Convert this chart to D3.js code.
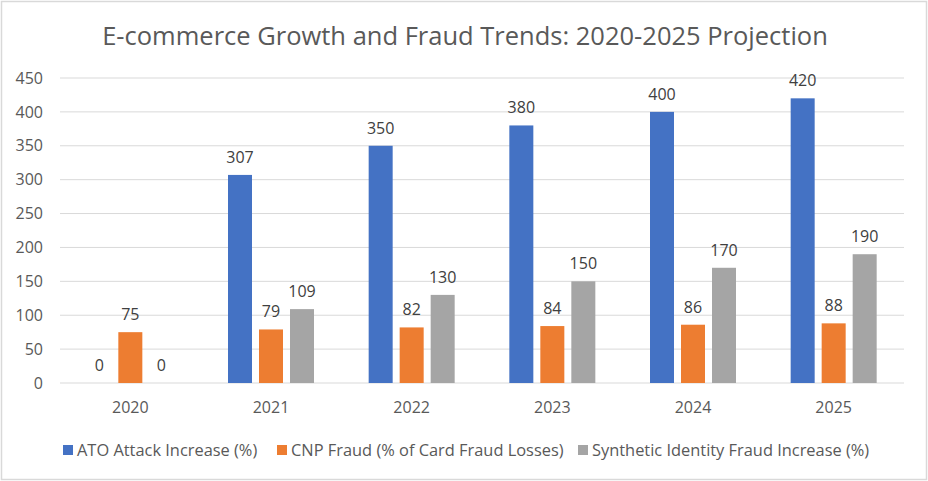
<!DOCTYPE html>
<html>
<head>
<meta charset="utf-8">
<script src="https://cdn.jsdelivr.net/npm/d3@7"></script>
<style>
  body { margin: 0; background: #fff; }
  svg { display: block; font-family: "Open Sans", "Noto Sans", sans-serif; }
</style>
</head>
<body>
<div id="chart"></div>
<script>
var years = ["2020", "2021", "2022", "2023", "2024", "2025"];
var seriesNames = ["ATO Attack Increase (%)", "CNP Fraud (% of Card Fraud Losses)", "Synthetic Identity Fraud Increase (%)"];
var atoValues = [0, 307, 350, 380, 400, 420];
var cnpValues = [75, 79, 82, 84, 86, 88];
var synthValues = [0, 109, 130, 150, 170, 190];
var yTicks = [0, 50, 100, 150, 200, 250, 300, 350, 400, 450];
var colors = ["#4472C4", "#ED7D31", "#A5A5A5"];

var width = 928, height = 481;
var margin = {top: 78, right: 24, bottom: 98, left: 60};
var innerW = width - margin.left - margin.right,
    innerH = height - margin.top - margin.bottom;

var svg = d3.select("#chart").append("svg")
  .attr("width", width)
  .attr("height", height);

// outer border
svg.append("rect")
  .attr("x", 1.5).attr("y", 1.5)
  .attr("width", width - 3).attr("height", height - 3)
  .attr("fill", "#fff").attr("stroke", "#d9d9d9").attr("stroke-width", 1.5);

svg.append("text")
  .attr("x", 465).attr("y", 45)
  .attr("text-anchor", "middle")
  .attr("font-size", 25.5)
  .attr("fill", "#595959")
  .text("E-commerce Growth and Fraud Trends: 2020-2025 Projection");

var g = svg.append("g").attr("transform", "translate(" + margin.left + "," + margin.top + ")");

var x0 = d3.scaleBand().domain(years).range([0, innerW]);
var x1 = d3.scaleBand().domain(seriesNames).range([0, 86]).paddingInner(7 / 31);
var y = d3.scaleLinear().domain([0, 450]).range([innerH, 0]);

// gridlines
g.selectAll(".grid").data(yTicks).enter().append("line")
  .attr("x1", 0).attr("x2", innerW)
  .attr("y1", function(d){ return y(d); })
  .attr("y2", function(d){ return y(d); })
  .attr("stroke", "#d9d9d9").attr("stroke-width", 1);

var yAxis = g.append("g").call(d3.axisLeft(y).tickValues(yTicks).tickSize(0).tickPadding(17));
yAxis.select(".domain").remove();
yAxis.selectAll("text").attr("font-size", 16).attr("fill", "#595959").attr("font-family", "Open Sans, sans-serif");

var xAxis = g.append("g").attr("transform", "translate(0," + innerH + ")")
  .call(d3.axisBottom(x0).tickSize(0).tickPadding(19));
xAxis.select(".domain").remove();
xAxis.selectAll("text").attr("font-size", 16).attr("fill", "#595959").attr("font-family", "Open Sans, sans-serif");

var allValues = [atoValues, cnpValues, synthValues];
var rows = [];
years.forEach(function(yr, i) {
  seriesNames.forEach(function(s, j) {
    rows.push({year: yr, series: s, idx: j, value: allValues[j][i]});
  });
});

function barX(d) {
  return x0(d.year) + (x0.bandwidth() - 86) / 2 + x1(d.series);
}

g.selectAll("rect.bar").data(rows).enter().append("rect")
  .attr("class", "bar")
  .attr("x", barX)
  .attr("y", function(d){ return y(d.value); })
  .attr("width", x1.bandwidth())
  .attr("height", function(d){ return innerH - y(d.value); })
  .attr("fill", function(d){ return colors[d.idx]; });

g.selectAll("text.lbl").data(rows).enter().append("text")
  .attr("class", "lbl")
  .attr("x", function(d){ return barX(d) + x1.bandwidth() / 2; })
  .attr("y", function(d){ return y(d.value) - 12; })
  .attr("text-anchor", "middle")
  .attr("font-size", 16)
  .attr("fill", "#404040")
  .text(function(d){ return d.value; });

// legend
var legendX = [63, 277, 578];
var legend = svg.selectAll(".leg").data(seriesNames).enter().append("g")
  .attr("transform", function(d, i){ return "translate(" + legendX[i] + ",450)"; });
legend.append("rect")
  .attr("x", 0).attr("y", -5).attr("width", 10).attr("height", 10)
  .attr("fill", function(d, i){ return colors[i]; });
legend.append("text")
  .attr("x", 14).attr("y", 5.5)
  .attr("font-size", 16.4)
  .attr("fill", "#595959")
  .text(function(d){ return d; });
</script>
</body>
</html>
